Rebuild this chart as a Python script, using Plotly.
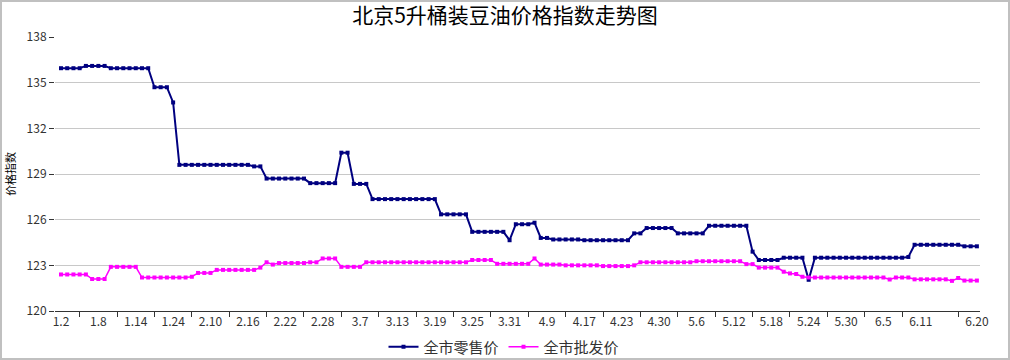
import plotly.graph_objects as go

# ---- data ----
retail = ([135.95] * 4 + [136.1] * 4 + [135.95] * 7 + [134.7] * 3 + [133.7]
          + [129.6] * 12 + [129.5] * 2 + [128.7] * 7 + [128.4] * 5 + [130.4] * 2
          + [128.35] * 3 + [127.35] * 11 + [126.35] * 5 + [125.2] * 6 + [124.65]
          + [125.7] * 3 + [125.8] + [124.8] * 2 + [124.7] * 5 + [124.65] * 8
          + [125.1] * 2 + [125.45] * 5 + [125.1] * 5 + [125.6] * 7 + [123.9]
          + [123.35] * 4 + [123.5] * 4 + [122.05] + [123.5] * 15 + [123.55]
          + [124.35] * 8 + [124.25] * 3)

wholesale = ([122.4] * 5 + [122.1] * 3 + [122.9] * 5 + [122.2] * 8 + [122.25]
             + [122.5] * 3 + [122.7] * 7 + [122.85] + [123.2] + [123.05]
             + [123.15] * 5 + [123.2] * 2 + [123.45] * 3 + [122.9] * 4
             + [123.2] * 17 + [123.35] * 4 + [123.1] * 6 + [123.45]
             + [123.05] * 4 + [123.0] * 6 + [122.95] * 5 + [123.0]
             + [123.2] * 9 + [123.27] * 8 + [123.08] * 2 + [122.85] * 4
             + [122.58, 122.47, 122.43, 122.25] + [122.2] * 13 + [122.07]
             + [122.2] * 3 + [122.08] * 6 + [121.98] + [122.17] + [122.0] * 3)

tick_labels = ["1.2", "1.8", "1.14", "1.24", "2.10", "2.16", "2.22", "2.28",
               "3.7", "3.13", "3.19", "3.25", "3.31", "4.9", "4.17", "4.23",
               "4.30", "5.6", "5.12", "5.18", "5.24", "5.30", "6.5", "6.11",
               "6.20"]

n = len(retail)
x = list(range(n))
label_pos = [6 * k for k in range(len(tick_labels) - 1)] + [n - 1]
tick_marks = [6 * k + 3 for k in range(23)] + [n - 4]

FONT = "Noto Sans CJK SC"
W, H = 1010, 360
ML, MR, MT, MB = 55, 30, 37, 49
PW, PH = W - ML - MR, H - MT - MB

fig = go.Figure()
fig.add_trace(go.Scatter(
    x=x, y=retail, name="全市零售价", mode="lines+markers",
    line=dict(color="#000080", width=2),
    marker=dict(symbol="square", size=4, color="#000080"),
))
fig.add_trace(go.Scatter(
    x=x, y=wholesale, name="全市批发价", mode="lines+markers",
    line=dict(color="#FF00FF", width=1.5),
    marker=dict(symbol="square", size=4, color="#FF00FF"),
))

fig.update_layout(
    width=W, height=H,
    margin=dict(l=ML, r=MR, t=MT, b=MB, autoexpand=False),
    paper_bgcolor="white", plot_bgcolor="white",
    font=dict(family=FONT, size=12, color="#333333"),
    title=dict(text="北京5升桶装豆油价格指数走势图", x=0.5, xanchor="center",
               y=1 - 16 / H, yanchor="middle",
               font=dict(family=FONT, size=21, color="#000000")),
    showlegend=True,
    legend=dict(orientation="h", x=(504 - ML) / PW, xanchor="center",
                y=-36 / PH, yanchor="middle",
                font=dict(family=FONT, size=15, color="#333333"),
                itemwidth=30, tracegroupgap=0, bgcolor="rgba(0,0,0,0)"),
    xaxis=dict(
        range=[-0.96, n - 0.5], automargin=False,
        tickmode="array", tickvals=label_pos, ticktext=tick_labels,
        ticks="", showgrid=False, zeroline=False,
        showline=True, linecolor="#333333", linewidth=1,
        tickfont=dict(size=12, color="#333333"),
        minor=dict(tickmode="array", tickvals=tick_marks, ticks="outside",
                   ticklen=5, tickcolor="#333333", tickwidth=1, showgrid=False),
    ),
    yaxis=dict(
        range=[120, 138], dtick=3, tick0=120, automargin=False,
        showgrid=True, gridcolor="#c8c8c8", gridwidth=1,
        zeroline=False, showline=False,
        ticks="outside", ticklen=5, tickcolor="#333333",
        tickfont=dict(size=12, color="#333333"),
        title=dict(text="价格指数", font=dict(size=11, color="#000000"), standoff=8),
    ),
    shapes=[dict(type="rect", xref="paper", yref="paper",
                 x0=-(ML - 1) / PW, x1=1 + (MR - 1) / PW,
                 y0=-(MB - 1) / PH, y1=1 + (MT - 1) / PH,
                 line=dict(color="#c0c0c0", width=2), layer="above")],
)

fig.write_html("out.html", config={"displayModeBar": False},
               post_script="document.body.style.margin='0';document.body.style.overflow='hidden';")
